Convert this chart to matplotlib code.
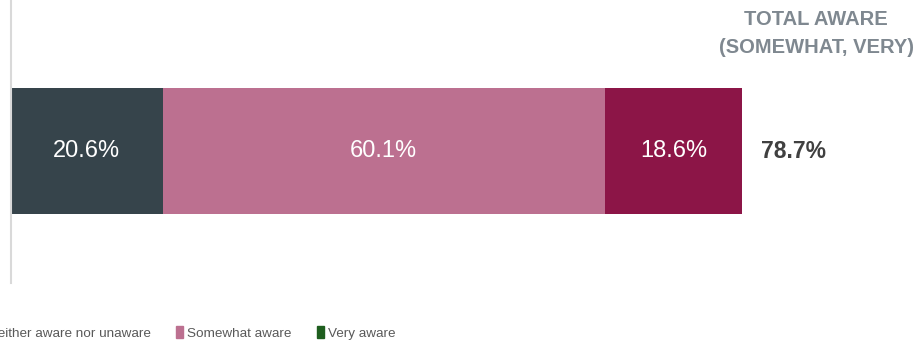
import matplotlib
matplotlib.use("Agg")
import matplotlib.pyplot as plt

categories = ["Neither aware nor unaware", "Somewhat aware", "Very aware"]
values = [20.6, 60.1, 18.6]
bar_colors = ["#36444B", "#BC7090", "#8C1547"]
legend_colors = ["#36444B", "#BC7090", "#1E5E1E"]
total_label = "78.7%"
header = "TOTAL AWARE\n(SOMEWHAT, VERY)"

plt.rcParams['font.family'] = ['Liberation Sans', 'DejaVu Sans']

fig = plt.figure(figsize=(9.22, 3.46), dpi=100)
ax = fig.add_axes([11/922, 63/346, 736/922, 283/346])
ax.set_xlim(0, 100)
ax.set_ylim(0, 1)

left = 0
handles = []
for cat, v, c, lc in zip(categories, values, bar_colors, legend_colors):
    ax.barh(0.4664, v, left=left, height=0.445, color=c, edgecolor='none')
    ax.text(left + v / 2, 0.4664, f"{v:.1f}%", ha='center', va='center',
            color='white', fontsize=17)
    handles.append(plt.Rectangle((0, 0), 1, 1, color=lc, label=cat))
    left += v

ax.text(left + 2.6, 0.4664, total_label, ha='left', va='center',
        color='#404040', fontsize=16.5, fontweight='bold')

for s in ['top', 'right', 'bottom']:
    ax.spines[s].set_visible(False)
ax.spines['left'].set_color('#D9D9D9')
ax.spines['left'].set_linewidth(1.5)
ax.set_xticks([])
ax.set_yticks([])

fig.text(816/922, 1 - 33.5/346, header, ha='center', va='center',
         color='#7F8890', fontsize=14.5, fontweight='bold', linespacing=1.65)

def make_legend(x0):
    return fig.legend(handles=handles, loc='center left', ncol=3,
                      bbox_to_anchor=(x0, 1 - 333/346), frameon=False,
                      prop={'size': 9.7}, labelcolor='#595959',
                      handlelength=0.55, handleheight=0.95,
                      handletextpad=0.3, columnspacing=1.85, borderaxespad=0)

leg = make_legend(0.0)
fig.canvas.draw()
r = fig.canvas.get_renderer()
px = leg.legend_handles[1].get_window_extent(r).x0
leg.remove()
leg = make_legend((176 - px) / 922)

fig.savefig("out.png", dpi=100)
